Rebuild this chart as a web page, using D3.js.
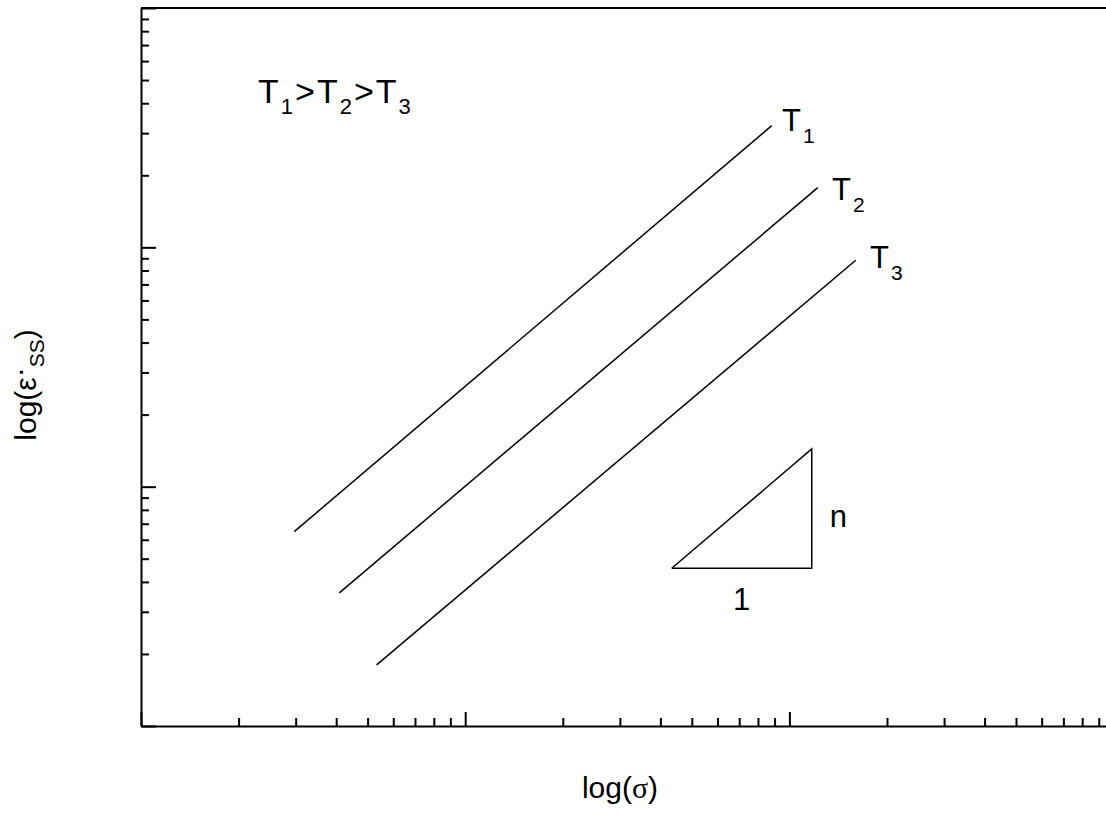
<!DOCTYPE html>
<html>
<head>
<meta charset="utf-8">
<script src="https://cdn.jsdelivr.net/npm/d3@7"></script>
<style>
  html, body { margin: 0; padding: 0; background: #fff; }
  svg { display: block; }
  text { font-family: Arial, "Liberation Sans", sans-serif; fill: #000; }
</style>
</head>
<body>
<svg id="chart" width="1106" height="832"></svg>
<script>
// Steady-state creep rate vs stress at three temperatures (log-log)
const seriesNames = ["1", "2", "3"];
const sigmaT1 = [2.97, 88.2];
const epsT1   = [6.49, 322.5];
const sigmaT2 = [4.09, 122.3];
const epsT2   = [3.60, 177.6];
const sigmaT3 = [5.33, 160.2];
const epsT3   = [1.80, 88.3];

// end-of-line label anchors
const labelSigma = [94.9, 135.3, 177.3];
const labelEps   = [306.5, 157.8, 82.0];

// slope triangle (rise n over a run of 1)
const triSigma = [43.35, 117.2, 117.2, 43.35];
const triEps   = [4.56, 4.56, 14.37, 4.56];

const xDomain = [1, 1000];
const yDomain = [1, 1000];

const svg = d3.select("#chart");
const x = d3.scaleLog().domain(xDomain).range([141, 1113.6]);
const y = d3.scaleLog().domain(yDomain).range([726, 8]);

const isMajor = v => Math.abs(Math.log10(v) - Math.round(Math.log10(v))) < 1e-9;

// axes with inward ticks, no numeric labels
const xTicks = x.ticks();
const yTicks = y.ticks();

const gx = svg.append("g").attr("transform", `translate(0,${y.range()[0]})`)
  .call(d3.axisBottom(x).tickValues(xTicks).tickSize(0).tickSizeOuter(0).tickFormat(""));
gx.selectAll(".tick line")
  .attr("y2", d => isMajor(d) ? -14 : -8)
  .attr("stroke", "#000").attr("stroke-width", 2);
gx.select(".domain").attr("stroke", "#000").attr("stroke-width", 2);

const gy = svg.append("g").attr("transform", `translate(${x.range()[0]},0)`)
  .call(d3.axisLeft(y).tickValues(yTicks).tickSize(0).tickSizeOuter(0).tickFormat(""));
gy.selectAll(".tick line")
  .attr("x2", d => isMajor(d) ? 15 : 8)
  .attr("stroke", "#000").attr("stroke-width", 2);
gy.select(".domain").attr("stroke", "#000").attr("stroke-width", 2);

// top and right frame
svg.append("line")
  .attr("x1", x.range()[0]).attr("x2", x.range()[1])
  .attr("y1", y.range()[1]).attr("y2", y.range()[1])
  .attr("stroke", "#000").attr("stroke-width", 2);
svg.append("line")
  .attr("x1", x.range()[1]).attr("x2", x.range()[1])
  .attr("y1", y.range()[0]).attr("y2", y.range()[1])
  .attr("stroke", "#000").attr("stroke-width", 2);

// creep lines
const series = [
  { s: sigmaT1, e: epsT1 },
  { s: sigmaT2, e: epsT2 },
  { s: sigmaT3, e: epsT3 }
];
const line = d3.line().x(d => x(d[0])).y(d => y(d[1]));
series.forEach(ser => {
  svg.append("path")
    .datum(ser.s.map((v, i) => [v, ser.e[i]]))
    .attr("d", line)
    .attr("fill", "none")
    .attr("stroke", "#000")
    .attr("stroke-width", 1.5);
});

// line labels T1, T2, T3
seriesNames.forEach((nm, i) => {
  const t = svg.append("text")
    .attr("x", x(labelSigma[i]))
    .attr("y", y(labelEps[i]))
    .attr("font-size", 31);
  t.append("tspan").text("T");
  t.append("tspan").attr("font-size", 21).attr("dx", 2).attr("dy", 12).text(nm);
});

// ordering note T1>T2>T3
const ord = svg.append("text").attr("x", 258).attr("y", 103).attr("font-size", 34);
seriesNames.forEach((nm, i) => {
  ord.append("tspan").attr("dx", i === 0 ? 0 : 2).text("T");
  ord.append("tspan").attr("font-size", 22).attr("dx", 2).attr("dy", 11).text(nm);
  if (i < seriesNames.length - 1) ord.append("tspan").attr("dx", 2).attr("dy", -11).text(">");
});

// slope triangle
svg.append("path")
  .datum(triSigma.map((v, i) => [v, triEps[i]]))
  .attr("d", line)
  .attr("fill", "none")
  .attr("stroke", "#000")
  .attr("stroke-width", 1.5)
  .attr("stroke-linejoin", "miter");

svg.append("text")
  .attr("x", (x(triSigma[0]) + x(triSigma[1])) / 2)
  .attr("y", y(triEps[0]) + 42)
  .attr("text-anchor", "middle")
  .attr("font-size", 31)
  .text("1");
svg.append("text")
  .attr("x", x(triSigma[1]) + 18)
  .attr("y", (y(triEps[1]) + y(triEps[2])) / 2 + 18)
  .attr("font-size", 31)
  .text("n");

// axis titles
const xt = svg.append("text")
  .attr("x", 620).attr("y", 798)
  .attr("text-anchor", "middle")
  .attr("font-size", 30);
xt.append("tspan").text("log(");
xt.append("tspan").attr("font-family", "'Liberation Serif', 'Times New Roman', serif").text("σ");
xt.append("tspan").text(")");

const yt = svg.append("text")
  .attr("transform", "translate(36,385) rotate(-90)")
  .attr("text-anchor", "middle")
  .attr("font-size", 30);
yt.append("tspan").text("log(ε");
yt.append("tspan").attr("dy", -7).text("·");
yt.append("tspan").attr("font-size", 21).attr("dy", 15).text("SS");
yt.append("tspan").attr("dy", -8).text(")");
</script>
</body>
</html>
